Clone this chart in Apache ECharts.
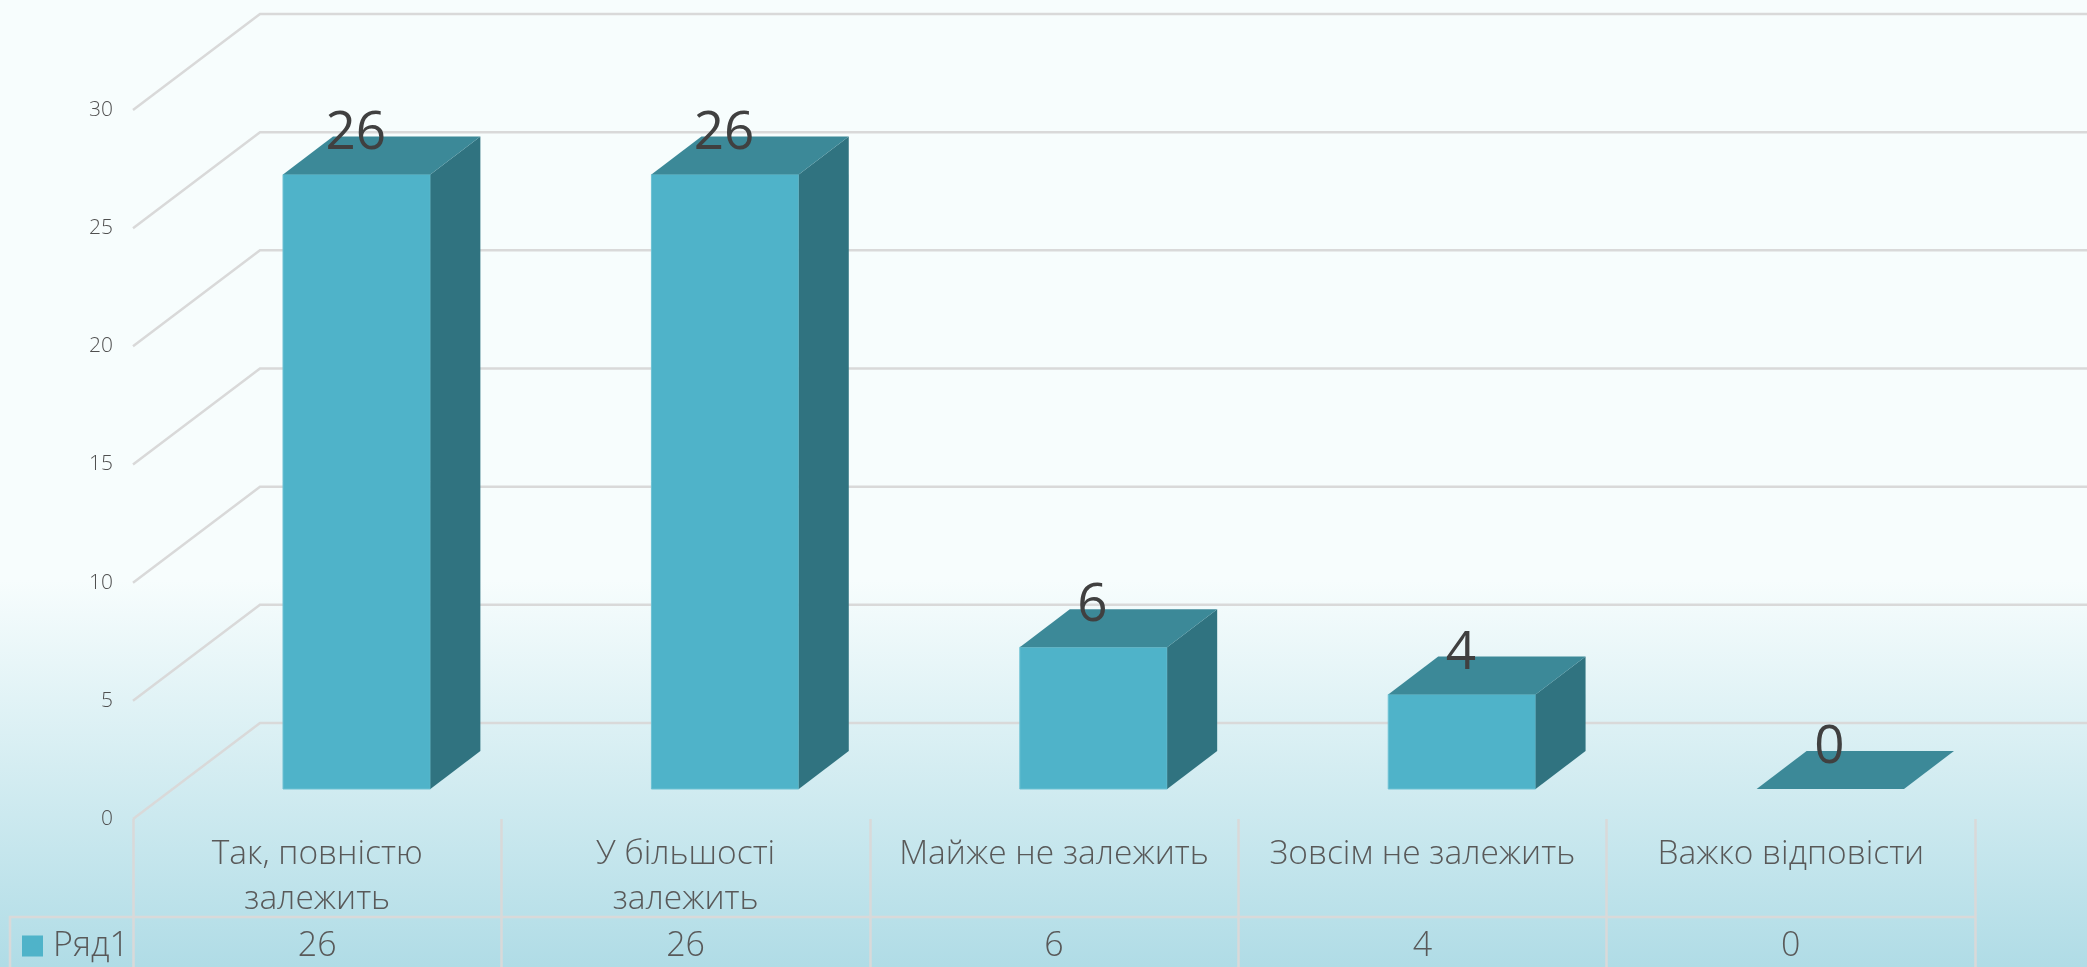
<!DOCTYPE html>
<html>
<head>
<meta charset="utf-8">
<title>Ряд1</title>
<script src="https://cdn.jsdelivr.net/npm/echarts@6/dist/echarts.min.js"></script>
<style>
  html, body { margin: 0; padding: 0; }
  #chart { width: 2087px; height: 967px; }
</style>
</head>
<body>
<div id="chart"></div>
<script>
const categories = ['Так, повністю\nзалежить', 'У більшості\nзалежить', 'Майже не залежить', 'Зовсім не залежить', 'Важко відповісти']
const seriesName = 'Ряд1'
const values = [26, 26, 6, 4, 0]
const wallTicks = [0, 5, 10, 15, 20, 25, 30]

const FONT = '"Open Sans", "Noto Sans", sans-serif'
const GRID_LINE = '#d9d9d9'
const TEXT_COLOR = '#595959'
const FACE = '#4fb3c9'
const TOP_FACE = '#3c8998'
const SIDE_FACE = '#307380'

// fake 3d: pixel offsets going from the front of the floor to the back wall
const WALL_DX = 127
const WALL_DY = 96
const BAR_OFFSET_X = 39.5
const BAR_OFFSET_Y = 30
const BAR_DEPTH_X = 50
const BAR_DEPTH_Y = 38
const BAR_WIDTH_RATIO = 0.4

const renderWall = (params, api) => {
  const p = api.coord([0, api.value(0)])
  const band = api.size([1, 0])[0]
  const left = p[0] - band / 2
  return {
    type: 'polyline',
    silent: true,
    shape: { points: [[left, p[1]], [left + WALL_DX, p[1] - WALL_DY], [left + WALL_DX + 2000, p[1] - WALL_DY]] },
    style: { stroke: GRID_LINE, lineWidth: 2.5, fill: null },
  }
}

const renderBar = (params, api) => {
  const value = api.value(1)
  const base = api.coord([api.value(0), 0])
  const top = api.coord([api.value(0), value])
  const width = api.size([1, 0])[0] * BAR_WIDTH_RATIO
  const x0 = base[0] + BAR_OFFSET_X - width / 2
  const x1 = x0 + width
  const yBottom = base[1] - BAR_OFFSET_Y
  const yTop = top[1] - BAR_OFFSET_Y
  const children = []
  if (value > 0) {
    children.push({
      type: 'polygon',
      shape: { points: [[x0, yBottom], [x1, yBottom], [x1, yTop], [x0, yTop]] },
      style: { fill: FACE, stroke: '#6cc1d3', lineWidth: 1 },
    })
    children.push({
      type: 'polygon',
      shape: { points: [[x1, yBottom], [x1 + BAR_DEPTH_X, yBottom - BAR_DEPTH_Y], [x1 + BAR_DEPTH_X, yTop - BAR_DEPTH_Y], [x1, yTop]] },
      style: { fill: SIDE_FACE },
    })
  }
  children.push({
    type: 'polygon',
    shape: { points: [[x0, yTop], [x1, yTop], [x1 + BAR_DEPTH_X, yTop - BAR_DEPTH_Y], [x0 + BAR_DEPTH_X, yTop - BAR_DEPTH_Y]] },
    style: { fill: TOP_FACE },
  })
  children.push({
    type: 'text',
    style: {
      text: String(value),
      x: base[0] + BAR_OFFSET_X - 1,
      y: yTop - 41,
      align: 'center',
      verticalAlign: 'middle',
      fontFamily: FONT,
      fontSize: 53,
      fill: '#404040',
    },
  })
  return { type: 'group', children }
}

// data table row under the axis
const renderTableCell = (params, api) => {
  const base = api.coord([api.value(0), 0])
  return {
    type: 'text',
    silent: true,
    style: {
      text: String(api.value(1)),
      x: base[0],
      y: base[1] + 127,
      align: 'center',
      verticalAlign: 'middle',
      fontFamily: FONT,
      fontWeight: 300,
      fontSize: 34,
      fill: TEXT_COLOR,
    },
  }
}

const renderTableFrame = (params, api) => {
  const first = api.coord([0, 0])
  const last = api.coord([categories.length - 1, 0])
  const band = api.size([1, 0])[0]
  const y = first[1] + 98
  const tableLeft = first[0] - band / 2 - 123
  return {
    type: 'polyline',
    silent: true,
    shape: { points: [[tableLeft, first[1] + 160], [tableLeft, y], [last[0] + band / 2, y]] },
    style: { stroke: GRID_LINE, lineWidth: 2.5, fill: null },
  }
}

const chart = echarts.init(document.getElementById('chart'))

chart.setOption({
  animation: false,
  backgroundColor: new echarts.graphic.LinearGradient(0, 0, 0, 1, [
    { offset: 0, color: '#f7fdfd' },
    { offset: 0.6, color: '#f7fdfd' },
    { offset: 1, color: '#b0dce6' },
  ]),
  grid: { left: 133, right: 112, top: 110, bottom: 148 },
  legend: {
    data: [seriesName],
    left: 17,
    top: 924,
    icon: 'rect',
    itemWidth: 21,
    itemHeight: 21,
    textStyle: { fontFamily: FONT, fontWeight: 300, fontSize: 34, color: TEXT_COLOR, padding: [0, 0, 0, 5] },
  },
  xAxis: {
    type: 'category',
    data: categories,
    axisLine: { show: false },
    axisTick: { show: true, length: 149, lineStyle: { color: GRID_LINE, width: 2.5 } },
    axisLabel: {
      interval: 0,
      margin: 13,
      fontFamily: FONT,
      fontWeight: 300,
      fontSize: 33.5,
      lineHeight: 45,
      color: TEXT_COLOR,
    },
  },
  yAxis: {
    type: 'value',
    min: 0,
    max: 30,
    interval: 5,
    axisLine: { show: false },
    axisTick: { show: false },
    splitLine: { show: false },
    axisLabel: { margin: 20, padding: [8, 0, 0, 0], fontFamily: FONT, fontWeight: 300, fontSize: 21, color: '#505050' },
  },
  series: [
    {
      type: 'custom',
      name: 'wall',
      renderItem: renderWall,
      data: wallTicks.map((tick) => [tick]),
      encode: { y: 0 },
      z: 1,
      silent: true,
    },
    {
      type: 'custom',
      name: 'tableFrame',
      renderItem: renderTableFrame,
      data: [[0]],
      z: 1,
      silent: true,
    },
    {
      type: 'custom',
      name: seriesName,
      renderItem: renderBar,
      data: values.map((value, index) => [index, value]),
      encode: { x: 0, y: 1 },
      itemStyle: { color: FACE },
      z: 3,
    },
    {
      type: 'custom',
      name: 'tableValues',
      renderItem: renderTableCell,
      data: values.map((value, index) => [index, value]),
      encode: { x: 0, y: 1 },
      z: 2,
      silent: true,
    },
  ],
})
</script>
</body>
</html>
